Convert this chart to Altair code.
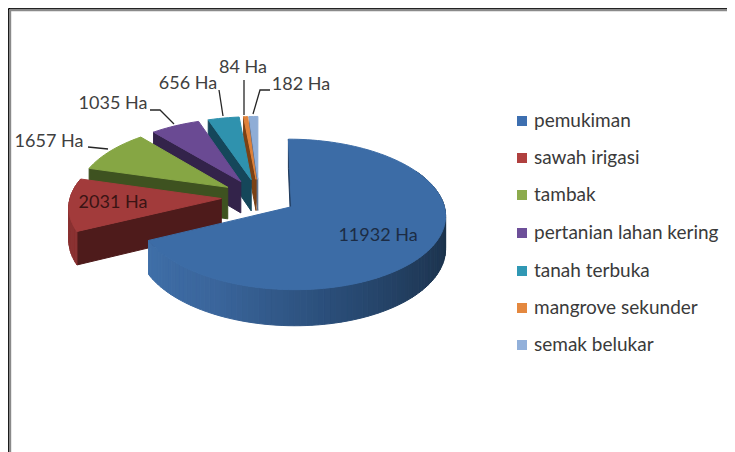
import math
import altair as alt
import pandas as pd

# ---- data
categories = ["pemukiman", "sawah irigasi", "tambak", "pertanian lahan kering",
              "tanah terbuka", "mangrove sekunder", "semak belukar"]
hectares = [11932, 2031, 1657, 1035, 656, 84, 182]
value_labels = [f"{v} Ha" for v in hectares]

# ---- styles
top_colors = ["#3c6ca6", "#a23b3b", "#86a644", "#6a4a93", "#2f92ae", "#e0823a", "#8fadd6"]
side_colors = ["#1f3a5c", "#4e1b1b", "#3e5220", "#33234a", "#15475a", "#7a4115", "#5d6f8c"]
rim_colors = ["#1f3a5c", "#8a3131", "#6d8a37", "#55397a", "#257890", "#b8692c", "#7a93b8"]
main_rim_stops = ["#1a2e47", "#1b3149", "#213c5c", "#2b4f7b", "#3a659b", "#3f6fa8"]
legend_swatches = ["#3d6fb0", "#b0403f", "#8cab4d", "#6d4f99", "#3098b4", "#e4883f", "#92b0da"]
label_colors = ["#1c2c44", "#3a1414", "#404040", "#404040", "#404040", "#404040", "#404040"]

# ---- layout constants (page pixels)
CX, CY = 259, 197
A, B, K = 151, 72.5, 0.10
EXPLODE = 0.25
DEPTH = 32
legend_y = [121, 158, 195, 233, 271, 308, 345]
label_x = [378, 113, 49, 113, 188, 243, 301]
label_y = [236, 203, 142, 104, 84, 68, 85]
leader_paths = {
    2: [(88, 147), (108, 149)],
    3: [(150, 110), (160, 110), (174, 124)],
    4: [(219, 90), (223, 116)],
    5: [(244, 80), (244, 115)],
    6: [(270, 90), (260, 90), (253, 114)],
}

total = sum(hectares)
starts, ends, acc = [], [], 0.0
for v in hectares:
    starts.append(acc * 360 / total)
    acc += v
    ends.append(acc * 360 / total)


def project(px, pz):
    w = 1 + K * pz
    return CX + A * px / w, CY - B * pz / w, w


def slice_point(i, deg, radius=1.0):
    mid = math.radians((starts[i] + ends[i]) / 2)
    t = math.radians(deg)
    px = EXPLODE * math.sin(mid) + radius * math.sin(t)
    pz = EXPLODE * math.cos(mid) + radius * math.cos(t)
    return project(px, pz)


def lerp_hex(stops, f):
    f = max(0.0, min(1.0, f)) * (len(stops) - 1)
    j = min(int(f), len(stops) - 2)
    r = f - j
    a = [int(stops[j][k:k + 2], 16) for k in (1, 3, 5)]
    b = [int(stops[j + 1][k:k + 2], 16) for k in (1, 3, 5)]
    return "#%02x%02x%02x" % tuple(round(a[m] + (b[m] - a[m]) * r) for m in range(3))


rows = []
piece_no = [0]


def add_poly(points, color):
    piece_no[0] += 1
    name = f"p{piece_no[0]:04d}"
    for seq, (x, y) in enumerate(points):
        rows.append({"piece": name, "seq": seq, "x": x, "y": y, "paint": color})


def drop(pt):
    x, y, w = pt
    return x, y + DEPTH / w


def flat(pt):
    return pt[0], pt[1]


for i in [6, 5, 4, 3, 2, 1, 0]:
    s, e = starts[i], ends[i]
    apex = slice_point(i, 0, 0.0)
    outer_s = slice_point(i, s)
    # radial side face
    add_poly([flat(apex), flat(outer_s), drop(outer_s), drop(apex)], side_colors[i])
    # rim strips where the outer wall faces the viewer
    lo, hi = (60, e) if i == 0 else (max(s, 200), min(e, 300))
    if i <= 1:
        n = max(2, int((hi - lo) / 2))
        for k in range(n):
            d0 = lo + (hi - lo) * k / n
            d1 = lo + (hi - lo) * (k + 1) / n
            p0, p1 = slice_point(i, d0), slice_point(i, d1)
            c = lerp_hex(main_rim_stops, (k + 0.5) / n) if i == 0 else rim_colors[i]
            add_poly([flat(p0), flat(p1), drop(p1), drop(p0)], c)
    # top surface
    n = max(2, int((e - s) / 2))
    arc = [flat(slice_point(i, s + (e - s) * k / n)) for k in range(n + 1)]
    add_poly([flat(apex)] + arc, top_colors[i])

df = pd.DataFrame(rows)

x_scale = alt.Scale(domain=[8, 727], range=[0, 719])
y_scale = alt.Scale(domain=[8, 452], range=[0, 444])
X = alt.X("x:Q", scale=x_scale, axis=None)
Y = alt.Y("y:Q", scale=y_scale, axis=None)

polys = alt.Chart(df).mark_line(interpolate="linear-closed", filled=True, strokeWidth=1).encode(
    x=X, y=Y,
    fill=alt.Fill("paint:N", scale=None),
    stroke=alt.Stroke("paint:N", scale=None),
    detail="piece:N",
    order=alt.Order("seq:Q"),
)

leaders = pd.DataFrame([
    {"lid": k, "seq": n, "x": p[0], "y": p[1]}
    for k, path in leader_paths.items() for n, p in enumerate(path)
])
leader_marks = alt.Chart(leaders).mark_line(color="#262626", strokeWidth=1.3).encode(
    x=X, y=Y, detail="lid:N", order=alt.Order("seq:Q"))

labels = pd.DataFrame({"x": label_x, "y": label_y, "t": value_labels, "c": label_colors})
label_marks = alt.Chart(labels).mark_text(font="Lato", fontSize=18, align="center", baseline="middle").encode(
    x=X, y=Y, text="t:N", color=alt.Color("c:N", scale=None))

legend_df = pd.DataFrame({"cat": categories, "y": legend_y, "c": legend_swatches, "x": 522, "tx": 534})
swatches = alt.Chart(legend_df).mark_square(size=100, opacity=1).encode(
    x=X, y=Y, fill=alt.Fill("c:N", scale=None), stroke=alt.value(None))
legend_text = alt.Chart(legend_df).mark_text(font="Lato", fontSize=19, align="left", baseline="middle", color="#3a3a3a").encode(
    x=alt.X("tx:Q", scale=x_scale, axis=None), y=Y, text="cat:N")

frame = pd.DataFrame({
    "x": [8.5, 8.5, 10, 10], "x2": [8.5, 727, 10, 727],
    "y": [8.5, 8.5, 10, 10], "y2": [452, 8.5, 452, 10],
    "c": ["#000000", "#000000", "#8a8a8a", "#8a8a8a"], "w": [1, 2, 2.4, 2.4],
})
frame_marks = alt.Chart(frame).mark_rule().encode(
    x=X, x2="x2:Q", y=Y, y2="y2:Q",
    color=alt.Color("c:N", scale=None),
    strokeWidth=alt.StrokeWidth("w:Q", scale=None),
)

chart = alt.layer(frame_marks, polys, leader_marks, label_marks, swatches, legend_text).properties(
    width=719, height=444, padding=0, background="white",
    autosize=alt.AutoSizeParams(type="none"),
).configure_view(stroke=None)

chart.save("out.html", embed_options={"renderer": "svg", "actions": False})
